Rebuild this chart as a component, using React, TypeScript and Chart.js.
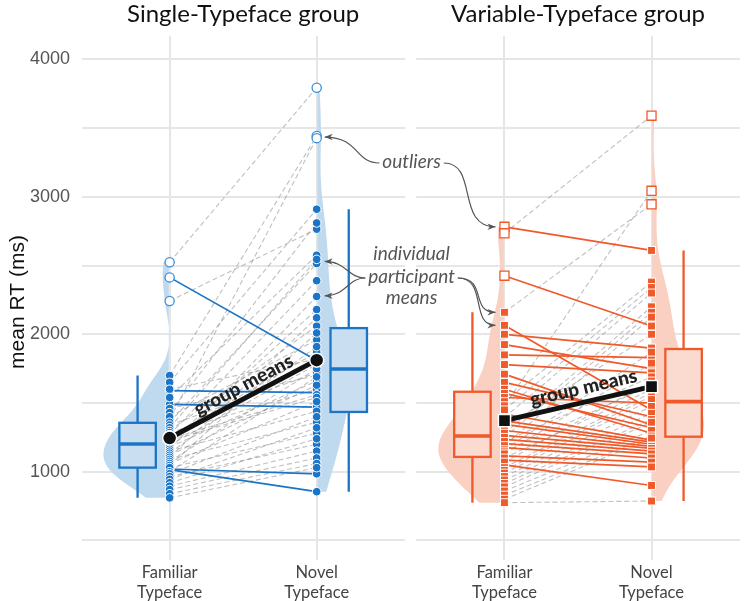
import React, { useEffect, useRef } from 'react';
import { Chart, registerables } from 'chart.js';

Chart.register(...registerables);

// ---------- data ----------
const categories = [['Familiar', 'Typeface'], ['Novel', 'Typeface']];
const panelTitles = ['Single-Typeface group', 'Variable-Typeface group'];
const yTickValues = [500, 1000, 1500, 2000, 2500, 3000, 3500, 4000];

// Single-Typeface group: mean RT per participant (same index = same participant)
const singleFamiliar = [2524, 2414, 2242, 1700, 1380, 1590, 1490, 1020, 1015, 1650, 1600, 1540, 1460, 1430, 1400, 1360, 1340, 1320, 1300, 1285, 1270, 1255, 1240, 1225, 1210, 1195, 1180, 1165, 1150, 1135, 1120, 1105, 1090, 1075, 1060, 1045, 1030, 1000, 985, 965, 945, 920, 895, 870, 840, 810];
const singleNovel = [3794, 1810, 2765, 3442, 3427, 1575, 1470, 985, 855, 2910, 1820, 2575, 1700, 2810, 1960, 2515, 1720, 2545, 2060, 1600, 2390, 1870, 1560, 1540, 2180, 1780, 1660, 2275, 1440, 1910, 1630, 2120, 1360, 1750, 1510, 2010, 1280, 1690, 1400, 1200, 1320, 1240, 1150, 1100, 1060, 1030];
const singleMeans = [1245, 1812];
// [lower whisker, Q1, median, Q3, upper whisker]
const singleFamiliarBox = [810, 1030, 1202, 1356, 1700];
const singleNovelBox = [855, 1435, 1748, 2045, 2910];

// Variable-Typeface group
const variableFamiliar = [2782, 2426, 2065, 2000, 1925, 1850, 1780, 1710, 1650, 1600, 1570, 1540, 1420, 1370, 1345, 1300, 1265, 1235, 1205, 1175, 1115, 1085, 1050, 2735, 2160, 1510, 1480, 1450, 1395, 1320, 1280, 1250, 1220, 1190, 1160, 1145, 1130, 1100, 1070, 1030, 1010, 990, 965, 940, 915, 890, 860, 830, 800, 775];
const variableNovel = [2610, 2060, 1450, 1900, 1750, 1830, 1720, 1340, 1400, 1280, 1320, 1500, 1230, 1215, 1200, 1185, 1170, 1150, 1130, 1100, 1070, 1035, 900, 3590, 2946, 2380, 3044, 2340, 2300, 2000, 2200, 2160, 1690, 2125, 1870, 1630, 1790, 1600, 1660, 1575, 1550, 1525, 1475, 1425, 1380, 1360, 1300, 1260, 1245, 787];
const variableMeans = [1372, 1619];
const variableFamiliarBox = [775, 1108, 1260, 1582, 2160];
const variableNovelBox = [787, 1255, 1510, 1893, 2610];

// ---------- layout / style ----------
const X_MIN = 0.404;
const X_MAX = 4.878;
const BOX_OFFSET = 0.218;
const BOX_HALF = 0.124;
const VIOLIN_W = 0.45;
const PANEL_HALF = 0.6;

const PANELS = [
  {
    pos: [1, 2], fam: singleFamiliar, nov: singleNovel, means: singleMeans,
    boxes: [singleFamiliarBox, singleNovelBox], title: panelTitles[0],
    color: '#1b74c5', outline: '#3a8fd8', violin: '#bfd9ee', boxFill: '#c9dff1',
    style: 'circle', r: 4.3, rOut: 4.6, rMean: 7, textOff: 6, textShift: 7,
  },
  {
    pos: [3.277, 4.277], fam: variableFamiliar, nov: variableNovel, means: variableMeans,
    boxes: [variableFamiliarBox, variableNovelBox], title: panelTitles[1],
    color: '#f0592a', outline: '#f0592a', violin: '#f9d0c2', boxFill: '#fbdbcf',
    style: 'rect', r: 5.6, rOut: 6.4, rMean: 8.6, textOff: 8, textShift: 9,
  },
];

function kde(values: number[], grid: number[]) {
  const n = values.length;
  const mean = values.reduce((a, b) => a + b, 0) / n;
  const sd = Math.sqrt(values.reduce((a, b) => a + (b - mean) ** 2, 0) / (n - 1));
  const s = [...values].sort((a, b) => a - b);
  const q = (p: number) => {
    const h = (n - 1) * p; const lo = Math.floor(h);
    return s[lo] + (h - lo) * (s[Math.min(lo + 1, n - 1)] - s[lo]);
  };
  const bw = 0.9 * Math.min(sd, (q(0.75) - q(0.25)) / 1.34) * Math.pow(n, -0.2);
  return grid.map((g) => values.reduce((acc, v) => acc + Math.exp(-0.5 * ((g - v) / bw) ** 2), 0) / (n * bw * Math.sqrt(2 * Math.PI)));
}

function arrow(ctx: CanvasRenderingContext2D, sx: number, sy: number, c1x: number, c1y: number, c2x: number, c2y: number, ex: number, ey: number) {
  ctx.beginPath();
  ctx.moveTo(sx, sy);
  ctx.bezierCurveTo(c1x, c1y, c2x, c2y, ex, ey);
  ctx.stroke();
  const ang = Math.atan2(ey - c2y, ex - c2x);
  const L = 8, W = 3.2;
  ctx.beginPath();
  ctx.moveTo(ex, ey);
  ctx.lineTo(ex - L * Math.cos(ang) + W * Math.sin(ang), ey - L * Math.sin(ang) - W * Math.cos(ang));
  ctx.lineTo(ex - L * 0.7 * Math.cos(ang), ey - L * 0.7 * Math.sin(ang));
  ctx.lineTo(ex - L * Math.cos(ang) - W * Math.sin(ang), ey - L * Math.sin(ang) + W * Math.cos(ang));
  ctx.closePath();
  ctx.fill();
}

const rainPlugin = {
  id: 'rain',
  beforeDatasetsDraw(chart: any) {
    const { ctx, chartArea: a, scales: { x, y } } = chart;
    ctx.save();
    const g0 = x.getPixelForValue(PANELS[0].pos[1] + PANEL_HALF);
    const g1 = x.getPixelForValue(PANELS[1].pos[0] - PANEL_HALF);
    ctx.fillStyle = '#ffffff';
    ctx.fillRect(g0, a.top - 2, g1 - g0, a.bottom - a.top + 4);

    PANELS.forEach((p) => {
      const dens = [p.fam, p.nov].map((vals) => {
        const mn = Math.min(...vals), mx = Math.max(...vals);
        const grid: number[] = [];
        for (let i = 0; i <= 160; i++) grid.push(mn + (mx - mn) * i / 160);
        return { grid, d: kde(vals, grid) };
      });
      const maxD = Math.max(...dens.map((d) => Math.max(...d.d)));
      dens.forEach((d, k) => {
        const side = k === 0 ? -1 : 1;
        ctx.beginPath();
        d.grid.forEach((v, j) => {
          const px = x.getPixelForValue(p.pos[k] + side * (d.d[j] / maxD) * VIOLIN_W);
          const py = y.getPixelForValue(v);
          if (j === 0) ctx.moveTo(px, py); else ctx.lineTo(px, py);
        });
        const cx = x.getPixelForValue(p.pos[k]);
        for (let j = d.grid.length - 1; j >= 0; j--) ctx.lineTo(cx + side * 0.8, y.getPixelForValue(d.grid[j]));
        ctx.closePath();
        ctx.fillStyle = p.violin;
        ctx.fill();
      });
      p.boxes.forEach((b, k) => {
        const c = p.pos[k] + (k === 0 ? -BOX_OFFSET : BOX_OFFSET);
        const xl = x.getPixelForValue(c - BOX_HALF), xr = x.getPixelForValue(c + BOX_HALF), xc = x.getPixelForValue(c);
        const [lo, q1, med, q3, hi] = b.map((v: number) => y.getPixelForValue(v));
        ctx.strokeStyle = p.color;
        ctx.lineWidth = 2.3;
        ctx.beginPath();
        ctx.moveTo(xc, lo); ctx.lineTo(xc, q1);
        ctx.moveTo(xc, q3); ctx.lineTo(xc, hi);
        ctx.stroke();
        ctx.fillStyle = p.boxFill;
        ctx.fillRect(xl, q3, xr - xl, q1 - q3);
        ctx.strokeRect(xl, q3, xr - xl, q1 - q3);
        ctx.lineWidth = 3.6;
        ctx.beginPath(); ctx.moveTo(xl, med); ctx.lineTo(xr, med); ctx.stroke();
      });
    });
    ctx.restore();
  },
  afterDatasetsDraw(chart: any) {
    const { ctx, scales: { x, y } } = chart;
    ctx.save();
    PANELS.forEach((p) => {
      const x1 = x.getPixelForValue(p.pos[0]), y1 = y.getPixelForValue(p.means[0]);
      const x2 = x.getPixelForValue(p.pos[1]), y2 = y.getPixelForValue(p.means[1]);
      ctx.save();
      ctx.translate((x1 + x2) / 2, (y1 + y2) / 2);
      ctx.rotate(Math.atan2(y2 - y1, x2 - x1));
      ctx.font = '900 19px Lato';
      ctx.fillStyle = '#222';
      ctx.textAlign = 'center';
      ctx.textBaseline = 'alphabetic';
      ctx.fillText('group means', p.textShift, -p.textOff);
      ctx.restore();
    });
    ctx.restore();
  },
  afterDraw(chart: any) {
    const { ctx, chartArea: a, scales: { x, y } } = chart;
    ctx.save();
    // panel titles
    ctx.fillStyle = '#111';
    ctx.font = '24px Lato';
    ctx.textAlign = 'center';
    ctx.textBaseline = 'middle';
    PANELS.forEach((p) => {
      ctx.fillText(p.title, x.getPixelForValue((p.pos[0] + p.pos[1]) / 2), 14);
    });
    // y title
    ctx.save();
    ctx.translate(18, (a.top + a.bottom) / 2 + 4);
    ctx.rotate(-Math.PI / 2);
    ctx.font = '21px "Liberation Sans"';
    ctx.fillText('mean RT (ms)', 0, 0);
    ctx.restore();

    // annotations
    const ax = (x.getPixelForValue(PANELS[0].pos[1] + PANEL_HALF) + x.getPixelForValue(PANELS[1].pos[0] - PANEL_HALF)) / 2 + 1;
    ctx.font = 'italic 19px Lato';
    ctx.fillStyle = '#555';
    ctx.strokeStyle = '#555';
    ctx.lineWidth = 1.2;
    const oy = 162;
    ctx.fillText('outliers', ax, oy);
    const ow = ctx.measureText('outliers').width;
    const py = 277;
    ctx.fillText('individual', ax, py - 23);
    ctx.fillText('participant', ax, py);
    ctx.fillText('means', ax, py + 21);
    const pw = ctx.measureText('participant').width;

    const lNov = x.getPixelForValue(PANELS[0].pos[1]);
    const rFam = x.getPixelForValue(PANELS[1].pos[0]);
    // outliers arrows
    let sx = ax - ow / 2 - 3, ex = lNov + 8, ey = y.getPixelForValue(3435);
    arrow(ctx, sx, oy + 1, sx - 25, oy + 1, ex + 35, ey, ex, ey);
    sx = ax + ow / 2 + 3; ex = rFam - 9; ey = y.getPixelForValue(2782);
    arrow(ctx, sx, oy + 1, sx + 35, oy + 1, ex - 40, ey, ex, ey);
    // participant arrows
    sx = ax - pw / 2 - 3;
    [2530, 2280].forEach((v) => {
      const e2 = y.getPixelForValue(v);
      arrow(ctx, sx, py + 1, sx - 18, py + 1, lNov + 30, e2, lNov + 8, e2);
    });
    sx = ax + pw / 2 + 3;
    [2160, 2065].forEach((v) => {
      const e2 = y.getPixelForValue(v);
      arrow(ctx, sx, py + 1, sx + 30, py + 1, rFam - 35, e2, rFam - 9, e2);
    });
    ctx.restore();
  },
};

function buildDatasets() {
  const datasets: any[] = [];
  PANELS.forEach((p) => {
    p.fam.forEach((f, i) => {
      const n = p.nov[i];
      const dec = n < f;
      datasets.push({
        data: [{ x: p.pos[0], y: f }, { x: p.pos[1], y: n }],
        showLine: true, pointRadius: 0,
        borderColor: dec ? p.color : 'rgba(130,130,130,0.5)',
        borderWidth: dec ? 1.7 : 1.1,
        borderDash: dec ? [] : [5, 3],
        order: dec ? 4 : 5,
      });
    });
    const isOut = (v: number, b: number[]) => v < b[0] || v > b[4];
    const filled: any[] = [], outs: any[] = [];
    p.fam.forEach((v) => (isOut(v, p.boxes[0]) ? outs : filled).push({ x: p.pos[0], y: v }));
    p.nov.forEach((v) => (isOut(v, p.boxes[1]) ? outs : filled).push({ x: p.pos[1], y: v }));
    datasets.push({ data: filled, pointStyle: p.style, pointRadius: p.r, backgroundColor: p.color, borderColor: '#ffffff', borderWidth: 1, order: 3 });
    datasets.push({ data: outs, pointStyle: p.style, pointRadius: p.rOut, backgroundColor: '#ffffff', borderColor: p.outline, borderWidth: 1.3, order: 2 });
    datasets.push({
      data: [{ x: p.pos[0], y: p.means[0] }, { x: p.pos[1], y: p.means[1] }],
      showLine: true, pointRadius: 0, borderColor: '#111', borderWidth: 5, order: 1,
    });
    datasets.push({
      data: [{ x: p.pos[0], y: p.means[0] }, { x: p.pos[1], y: p.means[1] }],
      pointStyle: p.style, pointRadius: p.rMean, backgroundColor: '#111', borderColor: '#ffffff', borderWidth: 1.5, order: 0,
    });
  });
  return datasets;
}

const tickPositions = PANELS.flatMap((p) => p.pos);

export default function App() {
  const ref = useRef<HTMLCanvasElement | null>(null);
  useEffect(() => {
    if (!ref.current) return;
    const chart = new Chart(ref.current, {
      type: 'scatter',
      data: { datasets: buildDatasets() },
      options: {
        responsive: false,
        animation: false,
        devicePixelRatio: 1,
        events: [],
        layout: { padding: { top: 36, left: 0, right: 0, bottom: 0 } },
        plugins: { legend: { display: false }, tooltip: { enabled: false }, title: { display: false } },
        scales: {
          x: {
            type: 'linear', min: X_MIN, max: X_MAX,
            afterBuildTicks: (s: any) => { s.ticks = tickPositions.map((v) => ({ value: v })); },
            afterFit: (s: any) => { s.height = 41; },
            ticks: {
              autoSkip: false, maxRotation: 0, padding: 3,
              font: { family: 'Lato', size: 16.5 }, color: '#444',
              callback: (_v: any, i: number) => categories[i % 2],
            },
            grid: { color: '#e6e6e6', lineWidth: 2, drawTicks: false },
            border: { display: false },
          },
          y: {
            type: 'linear', min: 358, max: 4170,
            afterBuildTicks: (s: any) => { s.ticks = yTickValues.map((v) => ({ value: v })); },
            afterFit: (s: any) => { s.width = 82; },
            ticks: {
              padding: 12, font: { family: 'Liberation Sans', size: 18 }, color: '#555',
              callback: (v: any) => (Number(v) % 1000 === 0 ? String(v) : ''),
            },
            grid: { color: '#e6e6e6', lineWidth: 2, drawTicks: false },
            border: { display: false },
          },
        },
      } as any,
      plugins: [rainPlugin],
    });
    return () => chart.destroy();
  }, []);
  return (
    <div style={{ position: 'absolute', left: 0, top: 0, width: 750, height: 601, background: '#fff' }}>
      <canvas ref={ref} width={750} height={601} style={{ display: 'block' }} />
    </div>
  );
}
